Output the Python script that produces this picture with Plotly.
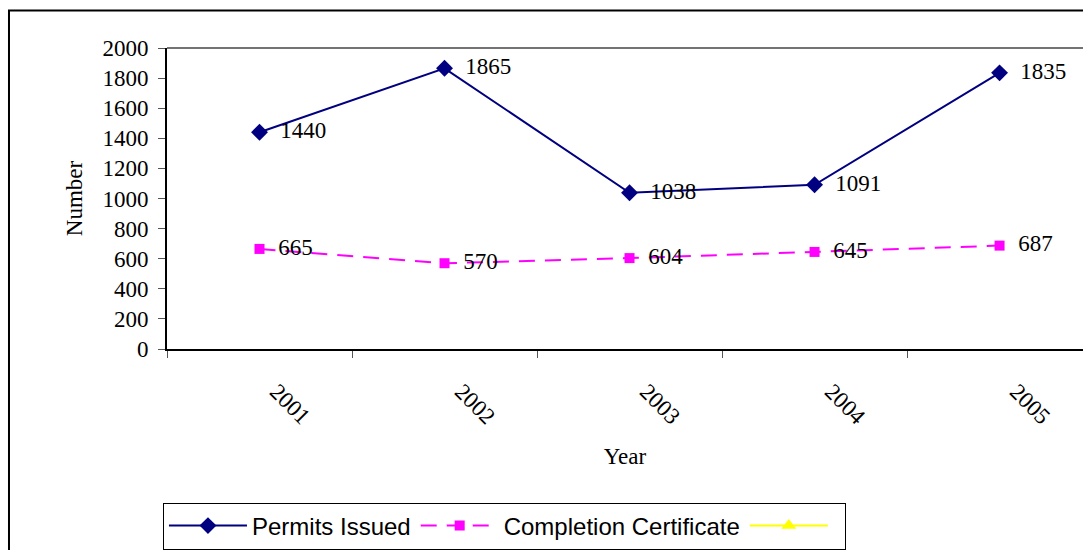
import plotly.graph_objects as go

# Building permits and completion certificates by year
years = ["2001", "2002", "2003", "2004", "2005"]
permits_issued = [1440, 1865, 1038, 1091, 1835]
completion_certificates = [665, 570, 604, 645, 687]
y_ticks = list(range(0, 2001, 200))

serif = "Liberation Serif, Times New Roman, serif"
sans = "Liberation Sans, Arial, sans-serif"
label_size = 23

fig = go.Figure()

fig.add_trace(go.Scatter(
    x=years, y=permits_issued, name="Permits Issued",
    mode="lines+markers+text",
    line=dict(color="#000080", width=2),
    marker=dict(symbol="diamond", size=13, color="#000080"),
    text=[str(v) for v in permits_issued],
    texttemplate="  %{text}",
    textposition="middle right",
    textfont=dict(family=serif, size=label_size, color="black"),
))

fig.add_trace(go.Scatter(
    x=years, y=completion_certificates, name="Completion Certificate",
    mode="lines+markers+text",
    line=dict(color="#FF00FF", width=2, dash="16px,10px"),
    marker=dict(symbol="square", size=10, color="#FF00FF"),
    text=[str(v) for v in completion_certificates],
    texttemplate="  %{text}",
    textposition="middle right",
    textfont=dict(family=serif, size=label_size, color="black"),
))

# Third series in the legend with no recorded values
fig.add_trace(go.Scatter(
    x=years, y=[None] * len(years), name=" ",
    mode="lines+markers",
    line=dict(color="#FFFF00", width=2),
    marker=dict(symbol="triangle-up", size=13, color="#FFFF00"),
))

fig.update_layout(
    width=1083, height=550,
    margin=dict(l=167, r=0, t=48, b=199),
    paper_bgcolor="white", plot_bgcolor="white",
    font=dict(family=serif, size=label_size, color="black"),
    showlegend=True,
    legend=dict(
        orientation="h", x=-0.0044, y=-0.51, xanchor="left", yanchor="top",
        font=dict(family=sans, size=24, color="black"),
        bordercolor="black", borderwidth=1, bgcolor="white",
        itemwidth=78, tracegroupgap=0,
    ),
    xaxis=dict(
        type="category", range=[-0.5, 4.451],
        tickson="boundaries", ticks="outside", ticklen=7, tickcolor="#555555",
        tickangle=45, ticklabelstandoff=18, ticklabelshift=17,
        showline=True, linecolor="black", linewidth=2,
        showgrid=False, zeroline=False,
        tickfont=dict(family=serif, size=label_size, color="black"),
        title=dict(text="Year", font=dict(family=serif, size=label_size), standoff=19),
    ),
    yaxis=dict(
        range=[0, 2000], tickvals=y_ticks,
        ticks="outside", ticklen=7, tickcolor="#555555",
        ticklabelstandoff=5,
        showline=True, linecolor="black", linewidth=2,
        showgrid=False, zeroline=False,
        tickfont=dict(family=serif, size=label_size, color="black"),
        title=dict(text="Number", font=dict(family=serif, size=label_size), standoff=13),
    ),
    shapes=[
        # top edge of the plot area
        dict(type="line", xref="paper", yref="paper", x0=0, x1=1, y0=1, y1=1,
             line=dict(color="#444444", width=1.5)),
        # outer chart frame
        dict(type="rect", xref="paper", yref="paper",
             x0=-0.1725, x1=1.05, y0=-0.7, y1=1.125,
             line=dict(color="black", width=2)),
    ],
)

fig.write_html("out.html")
